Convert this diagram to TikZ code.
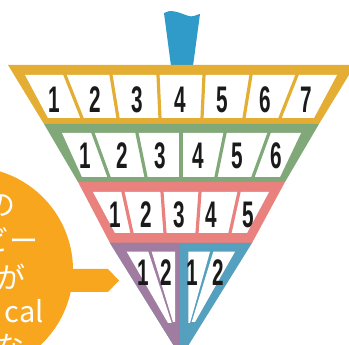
\documentclass[tikz,border=0pt]{standalone}
\usepackage{fontspec}
\newfontfamily\numfont[FakeStretch=0.56]{Liberation Sans}
\newfontfamily\jpfont{Noto Sans CJK JP}
\usepackage{tikz}
\usetikzlibrary{calc}

\definecolor{handleblue}{RGB}{48,154,200}
\definecolor{tieryellow}{RGB}{228,174,52}
\definecolor{tiergreen}{RGB}{128,168,120}
\definecolor{tierpink}{RGB}{233,130,127}
\definecolor{tipviolet}{RGB}{160,124,160}
\definecolor{tipblue}{RGB}{84,160,190}
\definecolor{noteorange}{RGB}{247,166,30}
\definecolor{numink}{RGB}{26,26,26}

\begin{document}
\begin{tikzpicture}[x=1pt, y=-1pt,
  num/.style={font=\numfont\bfseries\fontsize{37}{37}\selectfont, text=numink, inner sep=0pt},
  note/.style={font=\jpfont\fontsize{29}{29}\selectfont, text=white, inner sep=0pt, anchor=base east},
  gap/.style={line width=3.2pt, shorten <=-3pt, shorten >=-3pt}
]
\useasboundingbox (0,0) rectangle (349,345);

% speech bubble
\fill[noteorange] (-30,270) circle (103pt);
\fill[noteorange] (50,269) -- (108,269) -- (119,280.5) -- (108,292) -- (50,292) -- cycle;
\node[note] (n1) at (16,216) {の};
\node[note] (n2) at (39,252) {ビー};
\node[note] (n3) at (26,289) {が};
\node[note] (n4) at (44,323) {cal};
\node[note] (n5) at (25,358) {な};

% handle
\fill[handleblue] (171,66) -- (164,13) .. controls (170,9) and (178,12) .. (187,15.5)
  .. controls (194,18) and (197,14) .. (200,14) -- (193,66) -- cycle;

% top tier
\fill[tieryellow] (8,65) -- (355,65) -- (319,124) -- (44,124) -- cycle;
\fill[white] (25,75) -- (337,75) -- (314,118) -- (48,118) -- cycle;
\foreach \t/\b in {65/82, 111/118, 158/160, 204/202, 251/244, 297/280}
  \draw[gap, tieryellow] (\t,75) -- (\b,118);
\foreach \x [count=\i] in {54, 95, 137, 180.5, 222, 265, 306}
  \node[num] (y\i) at (\x,99.5) {\i};

% middle tier
\fill[tiergreen] (44,124) -- (319,124) -- (285,182) -- (78,182) -- cycle;
\fill[white] (62,133) -- (301,133) -- (280,177) -- (82,177) -- cycle;
\foreach \t/\b in {93/109, 137/146, 181/181, 225/216, 269/253}
  \draw[gap, tiergreen] (\t,133) -- (\b,177);
\foreach \x [count=\i] in {85, 122, 160, 198.5, 237, 276}
  \node[num] (g\i) at (\x,156) {\i};

% lower tier
\fill[tierpink] (78,182) -- (285,182) -- (252,243) -- (110,243) -- cycle;
\fill[white] (93,192) -- (269,192) -- (247,233) -- (115,233) -- cycle;
\foreach \t/\b in {123/132, 162/165, 200/197, 239/230}
  \draw[gap, tierpink] (\t,192) -- (\b,233);
\foreach \x [count=\i] in {115.5, 146, 179, 211.5, 248.5}
  \node[num] (p\i) at (\x,214.5) {\i};

% tip
\fill[tipblue] (110,243) -- (252,243) -- (188,346) .. controls (181,357) .. (174,346) -- cycle;
\begin{scope}
  \clip (0,240) rectangle (179.5,350);
  \fill[tipviolet] (110,243) -- (252,243) -- (188,346) .. controls (181,357) .. (174,346) -- cycle;
\end{scope}
\fill[white] (126.7,251.7) -- (148.3,251.7) -- (171.7,323) -- (168,323) -- cycle;
\fill[white] (151.7,251.7) -- (175,251.7) -- (175,322) -- (173,322) -- cycle;
\fill[white] (188.3,251.7) -- (210,251.7) -- (190,323) -- (188.3,323) -- cycle;
\fill[white] (213.3,251.7) -- (235,251.7) -- (195,322) -- (191.7,322) -- cycle;
\node[num] (t1) at (143,272.5) {1};
\node[num] (t2) at (166,272.5) {2};
\node[num] (t3) at (192.5,272.5) {1};
\node[num] (t4) at (218,272.5) {2};
\end{tikzpicture}
\end{document}
